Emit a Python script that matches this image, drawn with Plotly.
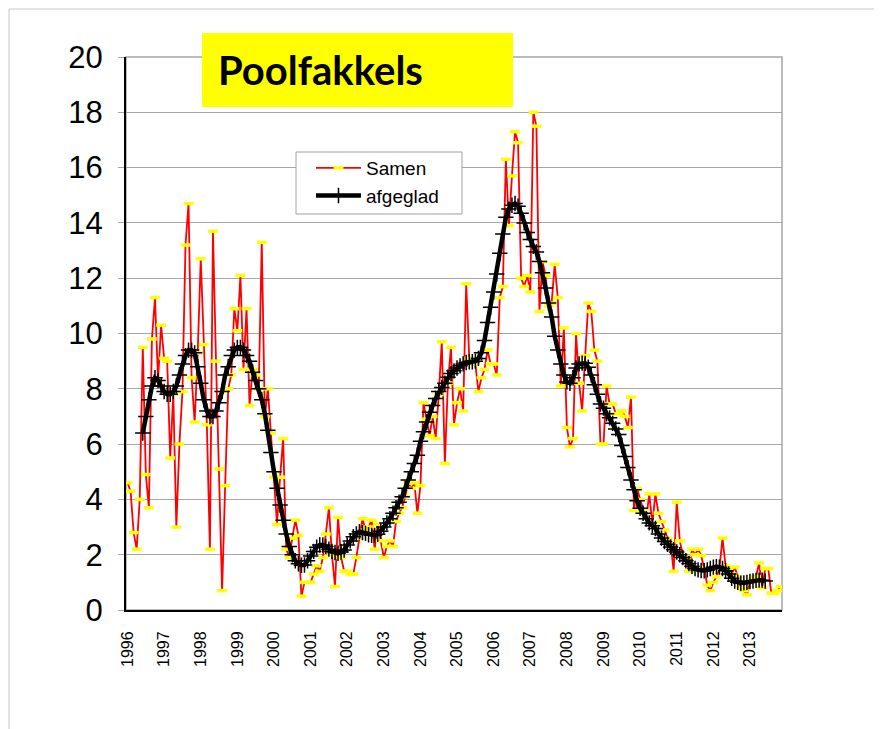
import plotly.graph_objects as go

# Tick labels (one per January)
years = [str(y) for y in range(1996, 2014)]

# Monthly values "Samen" (Jan 1996 .. Nov 2013)
samen = [
    4.6, 4.3, 2.8, 2.2, 4.0, 9.5, 4.9, 3.7, 9.8, 11.3, 8.3, 10.3,      # 1996
    9.1, 9.0, 5.5, 7.8, 3.0, 6.0, 7.9, 13.2, 14.7, 8.4, 6.8, 9.3,      # 1997
    12.7, 9.6, 6.7, 2.2, 13.7, 9.0, 5.1, 0.7, 4.5, 8.0, 8.5, 10.9,     # 1998
    10.1, 12.1, 8.7, 10.9, 7.4, 8.7, 8.5, 8.0, 13.3, 7.0, 8.0, 6.4,    # 1999
    4.8, 3.1, 4.8, 6.2, 2.2, 1.9, 2.6, 3.25, 2.7, 0.5, 1.0, 1.0,       # 2000
    1.0, 1.3, 1.6, 1.4, 1.9, 2.75, 3.7, 2.0, 0.85, 3.35, 1.9, 1.4,     # 2001
    1.4, 1.3, 1.3, 1.9, 2.6, 3.3, 2.9, 3.0, 3.25, 2.2, 3.1, 2.5,       # 2002
    1.9, 2.3, 2.5, 2.3, 3.2, 3.5, 3.7, 4.1, 4.6, 4.4, 4.6, 3.5,        # 2003
    4.5, 7.5, 6.9, 6.3, 7.0, 6.2, 7.8, 9.7, 5.3, 8.2, 9.5, 6.7,        # 2004
    7.5, 8.0, 7.2, 11.8, 9.1, 9.1, 8.9, 7.9, 8.4, 8.7, 9.4, 8.9,       # 2005
    8.9, 8.5, 11.3, 11.7, 16.3, 13.9, 15.7, 17.3, 16.9, 12.0, 11.7, 12.1,  # 2006
    11.5, 18.0, 17.5, 10.8, 12.6, 12.1, 11.0, 11.1, 12.5, 11.3, 8.1, 10.2,  # 2007
    6.6, 5.9, 6.2, 10.0, 8.2, 7.2, 9.2, 11.1, 10.8, 9.4, 9.0, 6.0,     # 2008
    6.0, 8.1, 7.45, 7.45, 7.1, 7.1, 7.2, 7.0, 6.6, 7.7, 3.6, 4.4,      # 2009
    4.0, 3.6, 3.3, 4.2, 3.1, 4.2, 3.5, 3.2, 2.9, 2.6, 2.4, 1.4,        # 2010
    3.9, 2.5, 2.0, 1.9, 1.4, 2.2, 2.0, 2.2, 1.97, 1.5, 0.9, 0.7,       # 2011
    1.0, 1.2, 1.5, 2.6, 1.6, 1.5, 1.3, 1.55, 1.2, 0.8, 0.7, 0.55,      # 2012
    1.0, 1.1, 1.2, 1.7, 0.8, 1.5, 1.5, 0.6, 0.6, 0.7, 0.85,            # 2013
]

# Smoothed series "afgeglad" (Jun 1996 .. Jun 2013)
afgeglad_start = 5
afgeglad = [
    6.4, 7.0, 7.6, 8.1, 8.4, 8.3, 8.1,                                  # 1996
    7.9, 7.8, 7.8, 7.9, 8.1, 8.5, 8.9, 9.2, 9.4, 9.4, 9.3, 8.8,         # 1997
    8.2, 7.6, 7.2, 7.0, 7.0, 7.2, 7.5, 7.9, 8.5, 8.8, 9.2, 9.4,         # 1998
    9.5, 9.5, 9.4, 9.2, 9.0, 8.6, 8.3, 8.0, 7.6, 7.1, 6.5, 5.7,         # 1999
    5.0, 4.4, 3.8, 3.25, 2.75, 2.3, 2.0, 1.78, 1.67, 1.62, 1.63, 1.78,  # 2000
    1.95, 2.12, 2.27, 2.35, 2.35, 2.3, 2.2, 2.12, 2.08, 2.05, 2.1, 2.17,  # 2001
    2.35, 2.5, 2.65, 2.75, 2.83, 2.8, 2.77, 2.72, 2.7, 2.7, 2.74, 2.85,  # 2002
    3.0, 3.15, 3.3, 3.5, 3.7, 3.9, 4.1, 4.4, 4.7, 5.0, 5.3, 5.6,        # 2003
    6.1, 6.45, 6.8, 7.15, 7.4, 7.65, 7.9, 8.05, 8.2, 8.42, 8.55, 8.65,  # 2004
    8.75, 8.83, 8.9, 8.95, 8.98, 8.98, 9.0, 9.1, 9.3, 9.75, 10.4, 10.95,  # 2005
    11.5, 12.15, 12.9, 13.6, 14.2, 14.5, 14.64, 14.7, 14.6, 14.35, 14.0, 13.65,  # 2006
    13.4, 13.15, 12.95, 12.6, 12.2, 11.65, 11.1, 10.6, 9.9, 9.4, 8.9, 8.5,  # 2007
    8.25, 8.2, 8.4, 8.75, 8.9, 8.93, 8.92, 8.78, 8.5, 8.15, 7.8, 7.45,  # 2008
    7.3, 7.1, 6.95, 6.75, 6.55, 6.35, 5.95, 5.55, 5.15, 4.7, 4.35, 3.95,  # 2009
    3.68, 3.5, 3.3, 3.15, 3.05, 2.95, 2.75, 2.6, 2.48, 2.38, 2.28, 2.18,  # 2010
    2.1, 2.0, 1.9, 1.78, 1.68, 1.58, 1.5, 1.45, 1.43, 1.42, 1.45, 1.5,  # 2011
    1.55, 1.57, 1.55, 1.5, 1.42, 1.3, 1.15, 1.05, 1.0, 0.97, 0.98, 1.0,  # 2012
    1.03, 1.05, 1.07, 1.08, 1.08, 1.05,                                 # 2013
]

# Page offset of the figure (HTML body margin)
OFF = 8
W, H = 882 - OFF, 729 - OFF
# plot area in page pixels of the reference
L, R, T, B = 126, 782, 57, 610


def px(x):
    return (x - L) / (R - L)


def py(y):
    return (B - y) / (B - T)


x_samen = list(range(len(samen)))
x_afg = list(range(afgeglad_start, afgeglad_start + len(afgeglad)))

fig = go.Figure()
fig.add_trace(go.Scatter(
    x=x_samen, y=samen, name="Samen", mode="lines+markers",
    line=dict(color="#FF0000", width=1.8),
    marker=dict(symbol="line-ew", size=7, color="#FFFF00",
                line=dict(color="#FFFF00", width=3.5)),
))
fig.add_trace(go.Scatter(
    x=x_afg, y=afgeglad, name="afgeglad", mode="lines+markers",
    line=dict(color="#000000", width=4.5),
    marker=dict(symbol="cross-thin", size=11, color="#000000",
                line=dict(color="#000000", width=1.5)),
))

fig.update_layout(
    width=W, height=H,
    margin=dict(l=L - OFF, r=W - (R - OFF), t=T - OFF, b=H - (B - OFF),
                autoexpand=False),
    paper_bgcolor="white", plot_bgcolor="white",
    font=dict(family="Arial, Liberation Sans, sans-serif", color="black"),
    legend=dict(
        x=px(311), y=py(149), xanchor="left", yanchor="top",
        bgcolor="rgba(0,0,0,0)", borderwidth=0,
        font=dict(size=19, family="Arial, Liberation Sans, sans-serif"),
        itemwidth=45, tracegroupgap=2,
    ),
    xaxis=dict(
        range=[-0.5, len(samen) - 0.5],
        tickmode="array", tickvals=[12 * k for k in range(len(years))],
        ticktext=years, tickangle=-90, tickfont=dict(size=16),
        showgrid=False, zeroline=False,
        showline=True, linecolor="black", linewidth=2,
        ticks="", ticklabelstandoff=13,
    ),
    yaxis=dict(
        range=[0, 20], dtick=2, tickfont=dict(size=31),
        showgrid=True, gridcolor="#a6a6a6", gridwidth=1,
        zeroline=False, showline=True, linecolor="black", linewidth=2,
        ticks="outside", ticklen=6, tickcolor="#a6a6a6",
        ticklabelstandoff=9,
    ),
    shapes=[
        # outer chart frame
        dict(type="rect", xref="paper", yref="paper",
             x0=px(9), x1=px(900), y0=py(760), y1=py(9),
             line=dict(color="#c8c8c8", width=1), layer="below"),
        # plot area border
        dict(type="rect", xref="paper", yref="paper",
             x0=0, x1=1, y0=0, y1=1,
             line=dict(color="#a6a6a6", width=1.5), layer="below"),
        # title box
        dict(type="rect", xref="paper", yref="paper",
             x0=px(202), x1=px(513), y0=py(107), y1=py(33),
             fillcolor="#FFFF00", line=dict(width=0), layer="above"),
        # legend box
        dict(type="rect", xref="paper", yref="paper",
             x0=px(296), x1=px(462), y0=py(214), y1=py(152),
             fillcolor="white", line=dict(color="#a0a0a0", width=1),
             layer="above"),
    ],
    annotations=[
        dict(text="<b>Poolfakkels</b>", xref="paper", yref="paper",
             x=px(216), y=py(70), xanchor="left", yanchor="middle",
             showarrow=False,
             font=dict(family="Lato, Open Sans, sans-serif", size=40, color="black")),
    ],
)

fig.write_html("out.html")
